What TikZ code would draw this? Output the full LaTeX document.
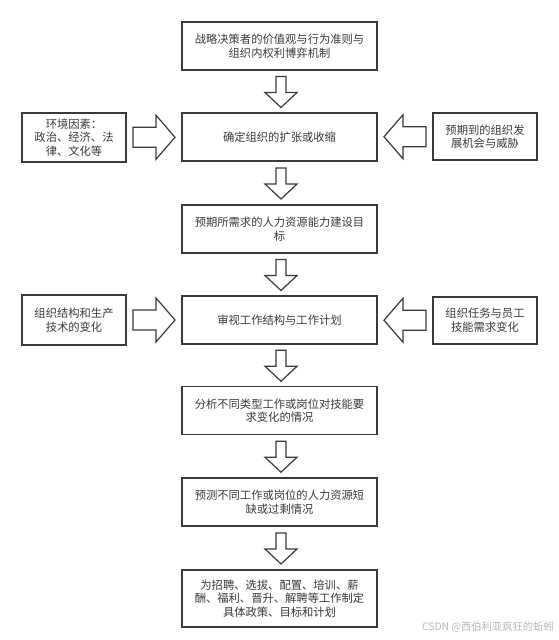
\documentclass[tikz,border=0pt]{standalone}
\usepackage{fontspec}
\setmainfont{Noto Sans CJK SC}
\usetikzlibrary{calc}
\definecolor{ink}{HTML}{3A3A3A}
\definecolor{wm}{HTML}{B8B8B8}
\tikzset{
  x=1pt, y=-1pt,
  every node/.style={font=\fontsize{11.3}{13.6}\selectfont, text=ink},
  mainbox/.style={draw=ink, line width=1.3pt, fill=white, minimum width=195pt, minimum height=48pt, align=center, inner sep=2pt},
  sidebox/.style={draw=ink, line width=1.3pt, fill=white, minimum width=104pt, minimum height=48pt, align=center, inner sep=2pt},
  blockarrow/.style={draw=ink, line width=1.2pt, fill=white, line join=miter},
  pics/darrow/.style={code={
    \draw[blockarrow] (-5,-15) -- (5,-15) -- (5,1) -- (16,1) -- (0,16) -- (-16,1) -- (-5,1) -- cycle;
  }},
  pics/rarrow/.style={code={
    \draw[blockarrow] (-21,-10) -- (2,-10) -- (2,-22) -- (21,0) -- (2,22) -- (2,10) -- (-21,10) -- cycle;
  }},
  pics/larrow/.style={code={
    \draw[blockarrow] (21,-10) -- (-2,-10) -- (-2,-22) -- (-21,0) -- (-2,22) -- (-2,10) -- (21,10) -- cycle;
  }},
}
\begin{document}
\begin{tikzpicture}
\useasboundingbox[fill=white] (0,0) rectangle (559,640);

\node[mainbox] (b1) at (279.5,46) {战略决策者的价值观与行为准则与\\组织内权利博弈机制};
\node[mainbox] (b2) at (279.5,137) {确定组织的扩张或收缩};
\node[mainbox] (b3) at (279.5,229) {预期所需求的人力资源能力建设目\\标};
\node[mainbox] (b4) at (279.5,320) {审视工作结构与工作计划};
\node[mainbox] (b5) at (279.5,410.5) {分析不同类型工作或岗位对技能要\\求变化的情况};
\node[mainbox] (b6) at (279.5,502) {预测不同工作或岗位的人力资源短\\缺或过剩情况};
\node[mainbox, minimum height=57pt] (b7) at (279.5,598.5) {为招聘、选拔、配置、培训、薪\\酬、福利、晋升、解聘等工作制定\\具体政策、目标和计划};

\node[sidebox, minimum height=49pt] (l1) at (74,137.5) {环境因素：\\政治、经济、法\\律、文化等};
\node[sidebox, minimum height=47pt] (r1) at (485,136.5) {预期到的组织发\\展机会与威胁};
\node[sidebox, minimum height=50pt] (l2) at (74,320) {组织结构和生产\\技术的变化};
\node[sidebox, minimum height=47pt] (r2) at (485,320.5) {组织任务与员工\\技能需求变化};

\pic at ($(b1.south)!0.5!(b2.north)+(1.5,0)$) {darrow};
\pic at ($(b2.south)!0.5!(b3.north)+(1.5,0)$) {darrow};
\pic at ($(b3.south)!0.5!(b4.north)+(1.5,0)$) {darrow};
\pic at ($(b4.south)!0.5!(b5.north)+(1.5,0)$) {darrow};
\pic at ($(b5.south)!0.5!(b6.north)+(1.5,0)$) {darrow};
\pic at ($(b6.south)!0.5!(b7.north)+(1.5,0)$) {darrow};

\pic at ($(l1.east)!0.5!(b2.west)$) {rarrow};
\pic at ($(r1.west)!0.5!(b2.east)$) {larrow};
\pic at ($(l2.east)!0.5!(b4.west)$) {rarrow};
\pic at ($(r2.west)!0.5!(b4.east)$) {larrow};

\node[text=wm, font=\fontsize{10.3}{12}\selectfont, anchor=east, inner sep=0pt] (wmk) at (554,627) {CSDN @西伯利亚疯狂的蚯蚓};
\end{tikzpicture}
\end{document}
